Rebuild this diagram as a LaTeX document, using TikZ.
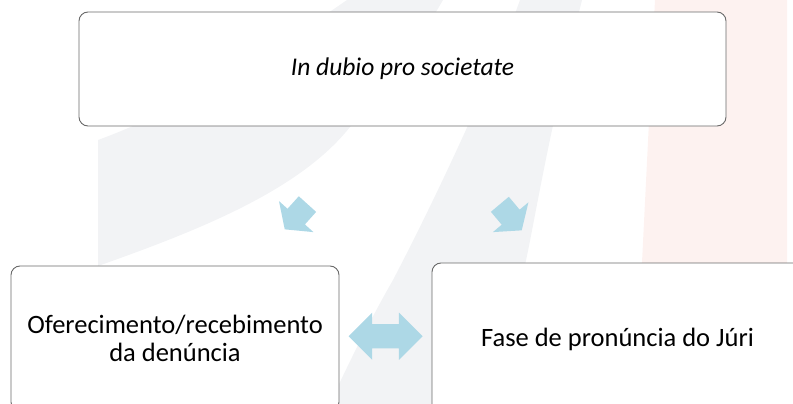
\documentclass[tikz,border=0pt]{standalone}
\usepackage{fontspec}
\setmainfont{Carlito}
\usetikzlibrary{shapes.arrows, positioning, calc}

\definecolor{boxline}{RGB}{105,105,105}
\definecolor{arrowblue}{RGB}{173,216,230}
\definecolor{markgray}{RGB}{242,243,245}
\definecolor{markpink}{RGB}{253,242,240}

\tikzset{
   box/.style={draw=boxline, line width=0.9pt, rounded corners=9pt, fill=white, align=center, inner sep=0pt, font=\fontsize{26.5}{28}\selectfont},
   flow/.style={single arrow, fill=arrowblue, inner xsep=0pt, inner ysep=11.5pt, minimum height=34pt, single arrow head extend=11.5pt, single arrow tip angle=107},
   swap/.style={double arrow, fill=arrowblue, inner xsep=0pt, inner ysep=12pt, minimum height=74pt, double arrow head extend=11.5pt, double arrow tip angle=90}
}

\begin{document}
\begin{tikzpicture}[x=1pt, y=-1pt]
   \useasboundingbox (0,0) rectangle (793,404);
   \clip (0,0) rectangle (793,404);

   % watermark in the background
   \fill[markpink] (655,0) -- (787,0) -- (787,404) -- (635,404) -- cycle;
   \fill[markgray] (347,0) .. controls (260,60) and (180,110) .. (98,140) -- (98,266) .. controls (200,230) and (300,190) .. (350,127) .. controls (390,80) and (420,40) .. (443,0) -- cycle;
   \fill[markgray] (520,0) .. controls (495,70) and (440,190) .. (393,280) .. controls (370,320) and (345,370) .. (330,404) -- (440,404) -- (525,265) .. controls (535,220) and (545,150) .. (582,0) -- cycle;

   \node[box, minimum width=647pt, minimum height=114pt, font=\itshape\fontsize{25.5}{28}\selectfont] (dubio) at (402.5, 69) {In dubio pro societate};
   \node[box, minimum width=328pt, minimum height=145pt] (oferta) at (175, 338.5) {Oferecimento/recebimento\\da denúncia};
   \node[box, minimum width=371pt, minimum height=152pt] (pronuncia) at (617.5, 339) {Fase de pronúncia do Júri};

   \node[flow, rotate=228] (desce1) at (299, 213.5) {};
   \node[flow, rotate=-50] (desce2) at (508, 214) {};
   \node[swap, yshift=2.5pt] (liga) at ($(oferta.east)!0.5!(pronuncia.west)$) {};
\end{tikzpicture}
\end{document}
